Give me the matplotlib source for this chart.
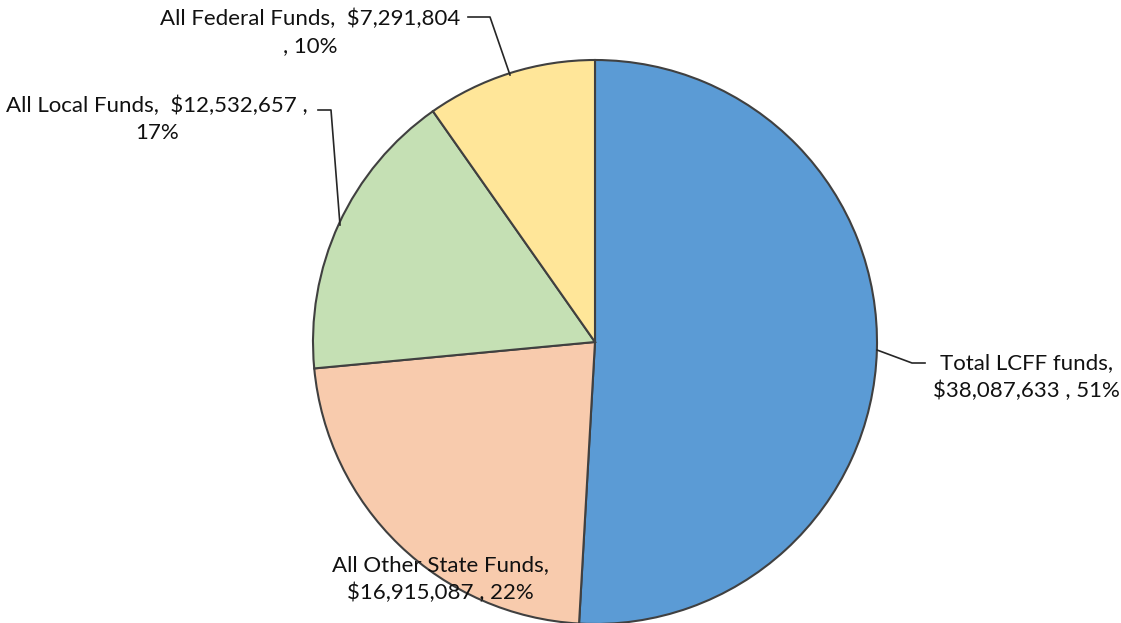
import matplotlib.pyplot as plt

# funding sources and amounts
sources = ["Total LCFF funds", "All Other State Funds", "All Local Funds", "All Federal Funds"]
amounts = [38087633, 16915087, 12532657, 7291804]
percents = ["51%", "22%", "17%", "10%"]
colors = ["#5B9BD5", "#F8CBAD", "#C5E0B4", "#FFE699"]

labels = [
    f"{sources[0]},\n${amounts[0]:,} , {percents[0]}",
    f"{sources[1]},\n${amounts[1]:,} , {percents[1]}",
    f"{sources[2]},  ${amounts[2]:,} ,\n{percents[2]}",
    f"{sources[3]},  ${amounts[3]:,}\n, {percents[3]}",
]

W, H = 1121, 623
fig = plt.figure(figsize=(W / 100, H / 100), dpi=100)
ax = fig.add_axes([0, 0, 1, 1])

# work in pixel units, y measured from the bottom
cx, cy, r = 595, H - 342, 282
ax.pie(amounts, colors=colors, startangle=90, counterclock=False,
       center=(cx, cy), radius=r, frame=True,
       wedgeprops=dict(edgecolor="#404040", linewidth=1.5))
ax.set_xlim(0, W)
ax.set_ylim(0, H)
ax.axis("off")

# leader lines
lc = "#262626"
ax.plot([925, 912, 877], [H - 363, H - 363, H - 350], color=lc, lw=1.2)
ax.plot([468, 490, 510], [H - 17, H - 17, H - 75], color=lc, lw=1.2)
ax.plot([318, 331, 340], [H - 110, H - 110, H - 225], color=lc, lw=1.2)

font = dict(family="Lato", fontsize=16, color="#111111", ha="center", va="center",
            multialignment="center", linespacing=1.45)
ax.text(1026, H - 377, labels[0], **font)
ax.text(440, H - 579, labels[1], **font)
ax.text(157, H - 119, labels[2], **font)
ax.text(310, H - 32, labels[3], **font)

fig.savefig("out.png", dpi=100)
